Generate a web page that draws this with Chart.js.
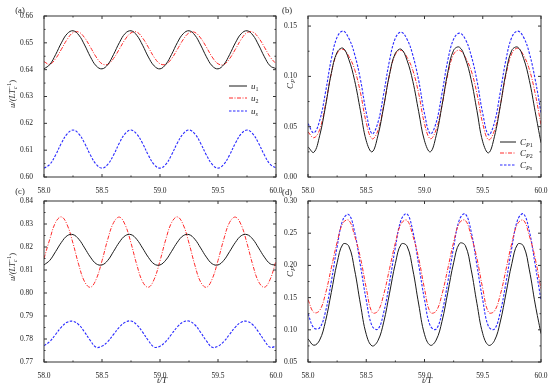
<!DOCTYPE html>
<html>
<head>
<meta charset="utf-8">
<script src="https://cdn.jsdelivr.net/npm/chart.js@4.4.1/dist/chart.umd.min.js"></script>
<style>
  html, body { margin: 0; padding: 0; background: #fff; }
  body { width: 550px; height: 389px; overflow: hidden; position: relative; }
  canvas { position: absolute; }
</style>
</head>
<body>
<canvas id="pa" width="290" height="195" style="left:0;top:0"></canvas>
<canvas id="pb" width="300" height="195" style="left:262px;top:0"></canvas>
<canvas id="pc" width="290" height="206" style="left:0;top:183px"></canvas>
<canvas id="pd" width="300" height="206" style="left:262px;top:183px"></canvas>
<script>
// time axis t/T
const T = [58.00, 58.05, 58.10, 58.15, 58.20, 58.25, 58.30, 58.35, 58.40, 58.45,
  58.50, 58.55, 58.60, 58.65, 58.70, 58.75, 58.80, 58.85, 58.90, 58.95,
  59.00, 59.05, 59.10, 59.15, 59.20, 59.25, 59.30, 59.35, 59.40, 59.45,
  59.50, 59.55, 59.60, 59.65, 59.70, 59.75, 59.80, 59.85, 59.90, 59.95,
  60.00];

// (a) velocity
const A_U1 = [0.6403, 0.6419, 0.6456, 0.6500, 0.6534, 0.6545, 0.6529, 0.6492, 0.6448, 0.6414,
  0.6403, 0.6419, 0.6457, 0.6501, 0.6535, 0.6545, 0.6528, 0.6491, 0.6447, 0.6414,
  0.6403, 0.6420, 0.6457, 0.6501, 0.6534, 0.6545, 0.6529, 0.6492, 0.6448, 0.6414,
  0.6403, 0.6419, 0.6456, 0.6500, 0.6534, 0.6545, 0.6529, 0.6492, 0.6448, 0.6414,
  0.6404];
const A_U2 = [0.6430, 0.6420, 0.6441, 0.6476, 0.6513, 0.6538, 0.6540, 0.6519, 0.6484, 0.6447,
  0.6422, 0.6420, 0.6442, 0.6477, 0.6513, 0.6537, 0.6540, 0.6518, 0.6483, 0.6446,
  0.6422, 0.6420, 0.6441, 0.6476, 0.6512, 0.6537, 0.6539, 0.6518, 0.6484, 0.6447,
  0.6422, 0.6419, 0.6441, 0.6476, 0.6513, 0.6538, 0.6540, 0.6519, 0.6484, 0.6447,
  0.6422];
const A_US = [0.6033, 0.6047, 0.6082, 0.6126, 0.6161, 0.6175, 0.6161, 0.6126, 0.6082, 0.6047,
  0.6033, 0.6047, 0.6082, 0.6127, 0.6162, 0.6175, 0.6160, 0.6125, 0.6081, 0.6046,
  0.6033, 0.6047, 0.6083, 0.6127, 0.6161, 0.6175, 0.6161, 0.6126, 0.6082, 0.6047,
  0.6033, 0.6047, 0.6082, 0.6126, 0.6161, 0.6175, 0.6161, 0.6126, 0.6082, 0.6047,
  0.6034];

// (b) power coefficient
const B_CP1 = [0.030, 0.0245, 0.041, 0.070, 0.103, 0.124, 0.128, 0.117, 0.096, 0.066,
  0.036, 0.025, 0.041, 0.070, 0.102, 0.123, 0.127, 0.116, 0.095, 0.065,
  0.036, 0.025, 0.041, 0.071, 0.104, 0.126, 0.129, 0.118, 0.097, 0.066,
  0.035, 0.024, 0.040, 0.070, 0.104, 0.126, 0.129, 0.118, 0.096, 0.065,
  0.034];
const B_CP2 = [0.045, 0.039, 0.047, 0.072, 0.103, 0.123, 0.127, 0.120, 0.107, 0.084,
  0.054, 0.038, 0.046, 0.071, 0.102, 0.122, 0.126, 0.119, 0.106, 0.083,
  0.053, 0.038, 0.047, 0.071, 0.102, 0.122, 0.126, 0.119, 0.106, 0.083,
  0.053, 0.037, 0.046, 0.071, 0.102, 0.123, 0.128, 0.121, 0.107, 0.083,
  0.052];
const B_CPS = [0.053, 0.044, 0.056, 0.084, 0.117, 0.139, 0.145, 0.138, 0.122, 0.097,
  0.064, 0.043, 0.054, 0.083, 0.116, 0.138, 0.144, 0.137, 0.121, 0.096,
  0.063, 0.043, 0.054, 0.083, 0.116, 0.137, 0.143, 0.137, 0.121, 0.096,
  0.063, 0.042, 0.054, 0.084, 0.117, 0.139, 0.145, 0.139, 0.123, 0.097,
  0.064];

// (c) velocity
const C_U1 = [0.8122, 0.8142, 0.8180, 0.8220, 0.8249, 0.8254, 0.8234, 0.8196, 0.8156, 0.8127,
  0.8122, 0.8142, 0.8181, 0.8221, 0.8249, 0.8254, 0.8233, 0.8195, 0.8155, 0.8126,
  0.8122, 0.8143, 0.8181, 0.8221, 0.8249, 0.8254, 0.8234, 0.8196, 0.8156, 0.8127,
  0.8122, 0.8142, 0.8180, 0.8220, 0.8249, 0.8254, 0.8234, 0.8196, 0.8156, 0.8127,
  0.8121];
const C_U2 = [0.8150, 0.8234, 0.8307, 0.8331, 0.8296, 0.8216, 0.8122, 0.8049, 0.8025, 0.8060,
  0.8140, 0.8234, 0.8306, 0.8330, 0.8296, 0.8217, 0.8123, 0.8049, 0.8025, 0.8060,
  0.8140, 0.8233, 0.8306, 0.8331, 0.8297, 0.8217, 0.8122, 0.8048, 0.8025, 0.8061,
  0.8141, 0.8234, 0.8307, 0.8330, 0.8296, 0.8216, 0.8122, 0.8049, 0.8025, 0.8060,
  0.8140];
const C_US = [0.7771, 0.7789, 0.7820, 0.7852, 0.7873, 0.7877, 0.7862, 0.7830, 0.7793, 0.7764,
  0.7769, 0.7789, 0.7820, 0.7852, 0.7873, 0.7878, 0.7862, 0.7830, 0.7793, 0.7765,
  0.7769, 0.7789, 0.7821, 0.7853, 0.7874, 0.7878, 0.7862, 0.7829, 0.7792, 0.7764,
  0.7769, 0.7789, 0.7820, 0.7852, 0.7873, 0.7877, 0.7862, 0.7830, 0.7793, 0.7764,
  0.7769];

// (d) power coefficient
const D_CP1 = [0.086, 0.076, 0.084, 0.113, 0.158, 0.204, 0.233, 0.230, 0.193, 0.140,
  0.093, 0.075, 0.083, 0.112, 0.157, 0.203, 0.233, 0.230, 0.193, 0.140,
  0.093, 0.076, 0.084, 0.113, 0.158, 0.204, 0.234, 0.231, 0.194, 0.141,
  0.094, 0.076, 0.083, 0.112, 0.157, 0.203, 0.233, 0.230, 0.193, 0.140,
  0.094];
const D_CP2 = [0.147, 0.127, 0.130, 0.156, 0.196, 0.236, 0.266, 0.270, 0.246, 0.212,
  0.165, 0.127, 0.129, 0.155, 0.195, 0.235, 0.265, 0.270, 0.246, 0.211,
  0.164, 0.127, 0.129, 0.155, 0.195, 0.236, 0.266, 0.270, 0.246, 0.211,
  0.164, 0.127, 0.129, 0.154, 0.194, 0.235, 0.265, 0.270, 0.246, 0.211,
  0.163];
const D_CPS = [0.125, 0.103, 0.103, 0.128, 0.175, 0.229, 0.271, 0.279, 0.252, 0.200,
  0.146, 0.106, 0.101, 0.127, 0.174, 0.228, 0.271, 0.280, 0.253, 0.201,
  0.147, 0.106, 0.101, 0.127, 0.174, 0.228, 0.271, 0.280, 0.253, 0.200,
  0.146, 0.105, 0.101, 0.127, 0.174, 0.228, 0.271, 0.280, 0.253, 0.201,
  0.146];

const SERIF = '"Liberation Serif", "DejaVu Serif", serif';
const INK = '#222';

const STYLE = [
  { color: '#1a1a1a', dash: [], width: 1 },
  { color: '#ff2a2a', dash: [4, 1.5, 1, 1.5], width: 1 },
  { color: '#2a2aff', dash: [2.5, 1.5], width: 1.1 }
];

// text runs with sub/superscripts: {t, s, i, dy, over}
function drawRich(ctx, runs, x, y, align, rotate) {
  ctx.save();
  ctx.translate(x, y);
  if (rotate) ctx.rotate(-Math.PI / 2);
  ctx.fillStyle = INK;
  ctx.textBaseline = 'alphabetic';
  ctx.textAlign = 'left';
  const font = r => (r.i ? 'italic ' : '') + (r.s || 9) + 'px ' + SERIF;
  let cursor = 0, prevStart = 0;
  const placed = runs.map(r => {
    ctx.font = font(r);
    const w = ctx.measureText(r.t).width;
    const start = r.over ? prevStart : cursor;
    cursor = Math.max(cursor, start + w);
    prevStart = start;
    return { r, start };
  });
  const off = align === 'center' ? -cursor / 2 : 0;
  placed.forEach(p => {
    ctx.font = font(p.r);
    ctx.fillText(p.r.t, off + p.start, 3 + (p.r.dy || 0));
  });
  ctx.restore();
}

const framePlugin = {
  id: 'frame',
  afterDraw(chart, args, opts) {
    const ctx = chart.ctx;
    const a = chart.chartArea;
    const xs = chart.scales.x, ys = chart.scales.y;
    ctx.save();
    ctx.strokeStyle = '#333';
    ctx.lineWidth = 1;
    ctx.setLineDash([]);
    ctx.strokeRect(a.left, a.top, a.right - a.left, a.bottom - a.top);

    const mids = ticks => {
      const v = ticks.map(t => t.value), out = [];
      for (let k = 0; k < v.length - 1; k++) out.push((v[k] + v[k + 1]) / 2);
      return out;
    };
    ctx.beginPath();
    const tickX = (vals, len) => vals.forEach(v => {
      const px = xs.getPixelForValue(v);
      ctx.moveTo(px, a.bottom); ctx.lineTo(px, a.bottom - len);
      ctx.moveTo(px, a.top); ctx.lineTo(px, a.top + len);
    });
    const tickY = (vals, len) => vals.forEach(v => {
      const py = ys.getPixelForValue(v);
      ctx.moveTo(a.left, py); ctx.lineTo(a.left + len, py);
      ctx.moveTo(a.right, py); ctx.lineTo(a.right - len, py);
    });
    tickX(xs.ticks.map(t => t.value), 3);
    tickX(mids(xs.ticks), 1.5);
    tickY(ys.ticks.map(t => t.value), 3);
    tickY(mids(ys.ticks), 1.5);
    ctx.stroke();

    // legend
    if (opts.legend) {
      const L = opts.legend;
      L.rows.forEach((runs, k) => {
        const ds = chart.data.datasets[k];
        const y = a.top + L.dy[k];
        ctx.beginPath();
        ctx.strokeStyle = ds.borderColor;
        ctx.lineWidth = ds.borderWidth;
        ctx.setLineDash(ds.borderDash);
        ctx.moveTo(a.right - L.x0, y);
        ctx.lineTo(a.right - L.x1, y);
        ctx.stroke();
        ctx.setLineDash([]);
        drawRich(ctx, runs, a.right - L.tx, y, 'left', false);
      });
    }
    ctx.restore();

    if (opts.ytitle) drawRich(ctx, opts.ytitle.runs, opts.ytitle.x, opts.ytitle.y, 'center', true);
    if (opts.xtitle) drawRich(ctx, opts.xtitle.runs, opts.xtitle.x, opts.xtitle.y, 'center', false);
    if (opts.tag) drawRich(ctx, [{ t: opts.tag.t, s: 8.5 }], opts.tag.x, opts.tag.y, 'center', false);
  }
};

const U_TITLE = [{ t: 'u/(', i: true, s: 8.5 }, { t: 'LT', i: true, s: 8.5 },
  { t: 'c', i: true, s: 6, dy: 2 }, { t: '\u22121', s: 6, dy: -4, over: true }, { t: ')', s: 8.5 }];
const CP_TITLE = [{ t: 'C', i: true, s: 9 }, { t: 'P', i: true, s: 6.5, dy: 2 }];
const T_TITLE = [{ t: 't/T', i: true, s: 9 }];

function makePanel(id, series, yMin, yMax, yStep, yWidth, pad, xHeight, extra) {
  const datasets = series.map((vals, k) => ({
    data: T.map((t, j) => ({ x: t, y: vals[j] })),
    borderColor: STYLE[k].color,
    borderDash: STYLE[k].dash,
    borderWidth: STYLE[k].width,
    pointRadius: 0,
    tension: 0.4,
    fill: false
  }));
  const tickFont = { family: SERIF, size: 7.5 };
  return new Chart(document.getElementById(id), {
    type: 'line',
    data: { datasets },
    options: {
      responsive: false,
      animation: false,
      events: [],
      layout: { padding: pad },
      scales: {
        x: {
          type: 'linear', min: 58, max: 60,
          grid: { display: false }, border: { display: false },
          ticks: { stepSize: 0.5, font: tickFont, color: INK, padding: 2, maxRotation: 0,
            callback: v => v.toFixed(1) },
          afterFit: s => { s.height = xHeight; }
        },
        y: {
          min: yMin, max: yMax,
          grid: { display: false }, border: { display: false },
          ticks: { stepSize: yStep, includeBounds: false, font: tickFont, color: INK, padding: 3,
            callback: v => v.toFixed(2) },
          afterFit: s => { s.width = yWidth; }
        }
      },
      plugins: {
        legend: { display: false },
        tooltip: { enabled: false },
        frame: extra
      }
    },
    plugins: [framePlugin]
  });
}

makePanel('pa', [A_U1, A_U2, A_US], 0.60, 0.66, 0.01, 44,
  { left: 0, right: 14, top: 16, bottom: 0 }, 18, {
    tag: { t: '(a)', x: 20, y: 10 },
    ytitle: { runs: U_TITLE, x: 12, y: 94 },
    legend: {
      x0: 47, x1: 29, tx: 25, dy: [70, 82, 95],
      rows: [
        [{ t: 'u', i: true, s: 9 }, { t: '1', s: 6, dy: 2 }],
        [{ t: 'u', i: true, s: 9 }, { t: '2', s: 6, dy: 2 }],
        [{ t: 'u', i: true, s: 9 }, { t: 's', i: true, s: 6, dy: 2 }]
      ]
    }
  });

makePanel('pb', [B_CP1, B_CP2, B_CPS], 0, 0.16, 0.05, 46,
  { left: 0, right: 21, top: 16, bottom: 0 }, 18, {
    tag: { t: '(b)', x: 25, y: 10 },
    ytitle: { runs: CP_TITLE, x: 28, y: 84 },
    legend: {
      x0: 41, x1: 25, tx: 21, dy: [126, 137, 149],
      rows: [
        [{ t: 'C', i: true, s: 9 }, { t: 'P', i: true, s: 6, dy: 2 }, { t: '1', s: 6, dy: 2 }],
        [{ t: 'C', i: true, s: 9 }, { t: 'P', i: true, s: 6, dy: 2 }, { t: '2', s: 6, dy: 2 }],
        [{ t: 'C', i: true, s: 9 }, { t: 'Ps', i: true, s: 6, dy: 2 }]
      ]
    }
  });

makePanel('pc', [C_U1, C_U2, C_US], 0.77, 0.84, 0.01, 44,
  { left: 0, right: 14, top: 18, bottom: 0 }, 27, {
    tag: { t: '(c)', x: 20, y: 8 },
    ytitle: { runs: U_TITLE, x: 12, y: 84 },
    xtitle: { runs: T_TITLE, x: 162, y: 197 }
  });

makePanel('pd', [D_CP1, D_CP2, D_CPS], 0.05, 0.30, 0.05, 46,
  { left: 0, right: 21, top: 18, bottom: 0 }, 27, {
    tag: { t: '(d)', x: 25, y: 9 },
    ytitle: { runs: CP_TITLE, x: 28, y: 89 },
    xtitle: { runs: T_TITLE, x: 165, y: 197 }
  });
</script>
</body>
</html>
